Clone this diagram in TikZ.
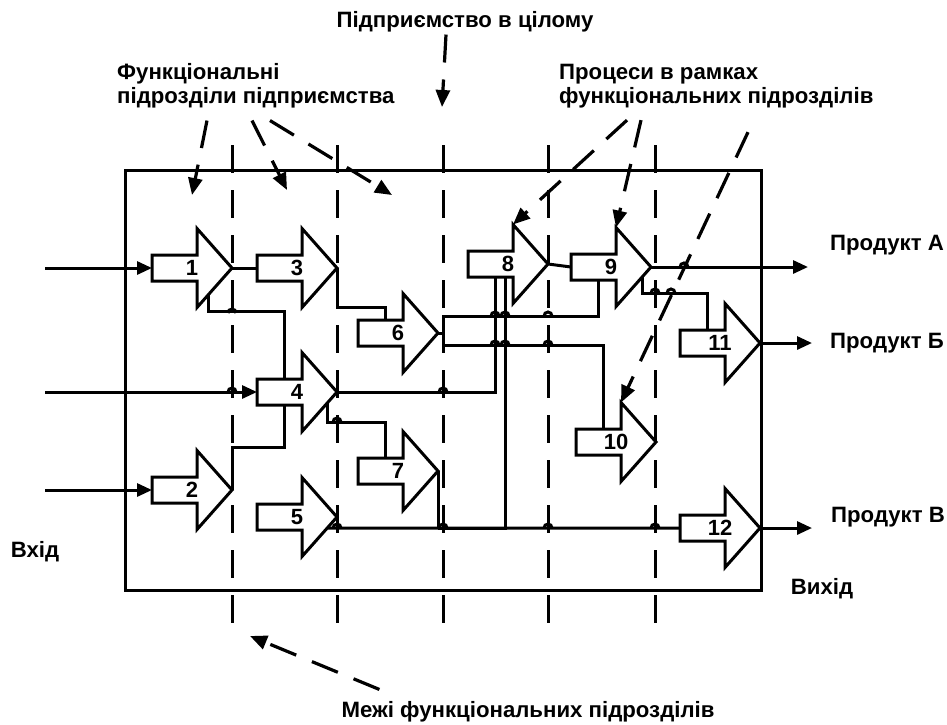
\documentclass[tikz,border=0pt]{standalone}
\usepackage{fontspec}
\setmainfont{Liberation Sans}
\usetikzlibrary{arrows.meta, calc}

\tikzset{
  frame/.style={line width=3pt},
  border/.style={line width=3pt, dash pattern=on 28pt off 17pt},
  wire/.style={line width=3pt},
  feed/.style={wire, -{Triangle[length=15pt,width=13pt]}},
  leader/.style={line width=3.2pt, dash pattern=on 28pt off 17pt, -{Triangle[length=17pt,width=14pt]}},
  lbl/.style={font=\bfseries\fontsize{22.2}{24}\selectfont, inner sep=0pt, align=left},
  num/.style={font=\bfseries\fontsize{22}{24}\selectfont, inner sep=0pt},
  pics/proc/.style={code={
    \draw[wire, fill=white, line join=miter] (-80,-13) -- (-35,-13) -- (-35,-39.5) -- (0,0)
      -- (-35,39.5) -- (-35,13) -- (-80,13) -- cycle;
    \node[num] (-num) at (-40,0) {#1};
    \coordinate (-tip) at (0,0);
    \coordinate (-in) at (-80,0);
    \coordinate (-top) at (-53,-13);
    \coordinate (-bot) at (-53,13);
    \coordinate (-crest) at (-35,-39.5);
    \coordinate (-heel) at (-35,39.5);
  }},
  pics/hop/.style={code={
    \draw[wire] (-4,0) arc[start angle=180, end angle=360, radius=4];
  }}
}

\begin{document}
\begin{tikzpicture}[x=1pt, y=-1pt]
  \useasboundingbox (0,0) rectangle (947,724);

  % boundaries of the functional units
  \foreach \x in {232,337,443,548,655}
    \draw[border] (\x,145) -- (\x,625);
  \draw[frame] (125,170) rectangle (761,590);

  % processes
  \pic (p1) at (232,268) {proc=1};
  \pic (p2) at (232,490) {proc=2};
  \pic (p3) at (337,268) {proc=3};
  \pic (p4) at (337,392) {proc=4};
  \pic (p5) at (337,517) {proc=5};
  \pic (p6) at (438,333) {proc=6};
  \pic (p7) at (438,471) {proc=7};
  \pic (p8) at (548,264) {proc=8};
  \pic (p9) at (651,267) {proc=9};
  \pic (p10) at (656,442) {proc=10};
  \pic (p11) at (760,343) {proc=11};
  \pic (p12) at (760,528) {proc=12};

  % labels
  \node[lbl] (whole) at (465,22) {Підприємство в цілому};
  \node[lbl, anchor=west] (funcs) at (117,86) {Функціональні\\підрозділи підприємства};
  \node[lbl, anchor=west] (procs) at (559,86) {Процеси в рамках\\функціональних підрозділів};
  \node[lbl] (bounds) at (528,712) {Межі функціональних підрозділів};
  \node[lbl] (input) at (35,552) {Вхід};
  \node[lbl] (output) at (822,589) {Вихід};
  \node[lbl, anchor=west] (prodA) at (830,245) {Продукт А};
  \node[lbl, anchor=west] (prodB) at (830,343) {Продукт Б};
  \node[lbl, anchor=west] (prodC) at (831,517) {Продукт В};

  % inputs and outputs
  \coordinate (in1) at (45,268);
  \coordinate (in4) at (45,392);
  \coordinate (in2) at (45,490);
  \coordinate (outA) at (808,267);
  \coordinate (outB) at (812,343);
  \coordinate (outC) at (812,528);
  \draw[feed] (in1) -- (p1-in);
  \draw[feed] (in4) -- (p4-in);
  \draw[feed] (in2) -- (p2-in);
  \draw[feed] (p9-tip) -- (outA);
  \draw[feed] (p11-tip) -- (outB);
  \draw[feed] (p12-tip) -- (outC);

  % links between processes
  \draw[wire] (p1-tip) -- (p3-in);
  \draw[wire] ($(p1-tip)!0.68!(p1-heel)$) -- ++(0,17) -| (p4-top);
  \draw[wire] (p2-tip) -- ++(0,-43) -| (p4-bot);
  \draw[wire] (p3-tip) -- ++(0,39) -| (p6-top);
  \draw[wire] (p4-tip) -| (p8-bot);
  \draw[wire] ($(p4-tip)!0.26!(p4-heel)$) -- ++(0,20) -| (p7-top);
  \draw[wire] ($(p5-tip)!0.2785!(p5-heel)$) -- (p12-in);
  \draw[wire] (p7-tip) -- (p7-tip |- p12-in);
  \draw[wire] ([xshift=10pt]p8-bot) |- (p7-tip |- p12-in);
  \draw[wire] (p8-tip) -- (p9-in);
  \draw[wire] (p6-tip) -- ++(5,0) |- ($(p9-bot)+(0,36)$) -- (p9-bot);
  \draw[wire] (p6-tip) -- ++(5,0) |- ($(p10-top)+(0,-84)$) -- (p10-top);
  \draw[wire] ($(p9-tip)!0.23!(p9-heel)$) -- ++(0,17) -| (p11-top);

  % hops over crossings
  \foreach \x/\y in {232/313, 232/392, 443/392, 337/422, 337/528, 443/528, 548/528, 655/528,
                     495/316, 505/316, 548/316, 495/345, 505/345, 548/345, 655/293, 671/293, 684/267}
    \pic at (\x,\y) {hop};

  % pointers
  \coordinate (col1) at (192,195);
  \coordinate (col2) at (287,190);
  \coordinate (col3) at (392,195);
  \coordinate (mid) at (442,107);
  \coordinate (edge) at (250,636);
  \draw[leader] (funcs.south west) ++(90,12) -- (col1);
  \draw[leader] (funcs.south west) ++(135,12) -- (col2);
  \draw[leader] (funcs.south west) ++(153,12) -- (col3);
  \draw[leader] (whole.south) ++(-19,2) -- (mid);
  \draw[leader] (procs.south west) ++(68,12) -- (p8-crest);
  \draw[leader] (procs.south west) ++(82,12) -- (p9-crest);
  \draw[leader] (procs.south west) ++(189,24) -- (p10-crest);
  \draw[leader] (bounds.north west) ++(38,-12) -- (edge);
\end{tikzpicture}
\end{document}
